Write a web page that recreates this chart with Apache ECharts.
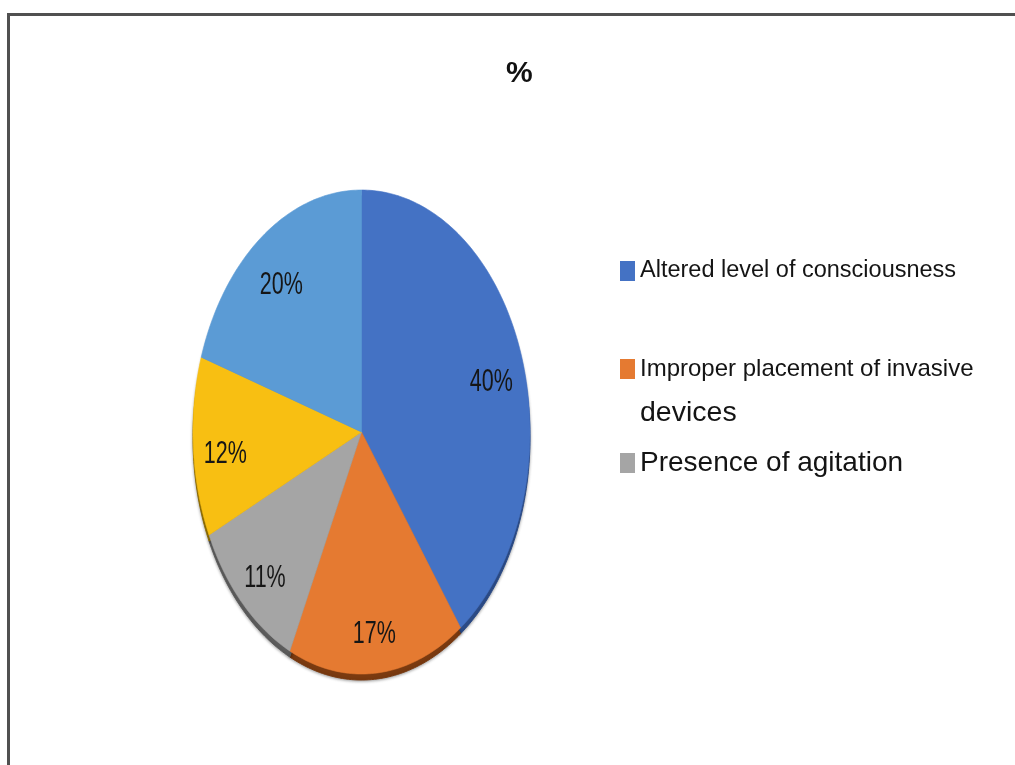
<!DOCTYPE html>
<html>
<head>
<meta charset="utf-8">
<script src="https://cdn.jsdelivr.net/npm/echarts@6/dist/echarts.min.js"></script>
<style>
html,body{margin:0;padding:0;background:#ffffff;}
#chart{width:1015px;height:765px;}
</style>
</head>
<body>
<div id="chart"></div>
<script>
// ---------------- data ----------------
const chartTitle = '%';
const categories = [
  'Altered level of consciousness',
  'Improper placement of invasive devices',
  'Presence of agitation',
  'Other cause A',
  'Other cause B'
];
const values = [40, 17, 11, 12, 20];
const valueLabels = ['40%', '17%', '11%', '12%', '20%'];
const legendCategories = [categories[0], categories[1], categories[2]];

// ---------------- styles ----------------
const palette = ['#4472C4', '#E57A31', '#A5A5A5', '#F8BF12', '#5B9BD5'];
const sidePalette = ['#2c4c88', '#7a3a10', '#5c5c5c', '#8c6a00', '#3a6896'];

function hasFont(name) {
  const ctx = document.createElement('canvas').getContext('2d');
  const s = 'mmmmmmmmmmlli WWW 0123 abc';
  ctx.font = '40px monospace'; const a = ctx.measureText(s).width;
  ctx.font = '40px "' + name + '", monospace'; const b = ctx.measureText(s).width;
  ctx.font = '40px serif'; const c = ctx.measureText(s).width;
  ctx.font = '40px "' + name + '", serif'; const d = ctx.measureText(s).width;
  return a !== b || c !== d;
}
const HAS_NARROW = hasFont('Liberation Sans Narrow');
const NARROW = HAS_NARROW ? 'Liberation Sans Narrow' : 'Liberation Sans';
const REGULAR = 'Liberation Sans';
const narrowSize = HAS_NARROW ? 28.5 : 23.5;
const narrowSize2 = HAS_NARROW ? 29 : 24;
const labelFont = HAS_NARROW ? '26px "Liberation Sans Narrow"' : '21.5px "Liberation Sans"';
const labelScaleY = HAS_NARROW ? 1.2 : 1.42;
const LABEL_RX = 0.81;
const LABEL_RY = 0.8;
const LABEL_DY = 10;
const SIDE_DY = 6;

function sliceAngles(i) {
  const total = values.reduce((s, v) => s + v, 0);
  let acc = 0;
  for (let k = 0; k < i; k++) acc += values[k];
  return [acc / total * 2 * Math.PI, (acc + values[i]) / total * 2 * Math.PI];
}
function slicePolygon(api, i, dy) {
  const [a0, a1] = sliceAngles(i);
  const c = api.coord([0, 0]);
  const pts = [[c[0], c[1] + dy]];
  const n = Math.max(8, Math.ceil((a1 - a0) * 180 / Math.PI));
  for (let j = 0; j <= n; j++) {
    const a = a0 + (a1 - a0) * j / n;
    const p = api.coord([Math.sin(a), Math.cos(a)]);
    pts.push([p[0], p[1] + dy]);
  }
  return pts;
}

// 3D side (drawn beneath all slices)
const sideSeries = {
  type: 'custom',
  name: '__side',
  coordinateSystem: 'cartesian2d',
  silent: true,
  z: 1,
  clip: false,
  encode: { x: 0, y: 1 },
  data: values.map((v, i) => [0, 0, v, i]),
  renderItem: function (params, api) {
    const i = api.value(3);
    return {
      type: 'polygon',
      shape: { points: slicePolygon(api, i, SIDE_DY) },
      style: { fill: sidePalette[i], stroke: sidePalette[i], lineWidth: 1, shadowBlur: 3, shadowColor: 'rgba(0,0,0,0.35)', shadowOffsetY: 1 }
    };
  }
};

const sliceSeries = categories.map((name, i) => ({
  type: 'custom',
  name: name,
  coordinateSystem: 'cartesian2d',
  z: 2,
  clip: false,
  itemStyle: { color: palette[i] },
  encode: { x: 0, y: 1 },
  data: [[0, 0, values[i], i]],
  renderItem: function (params, api) {
    const idx = api.value(3);
    const [a0, a1] = sliceAngles(idx);
    const mid = (a0 + a1) / 2;
    const lp = api.coord([LABEL_RX * Math.sin(mid), LABEL_RY * Math.cos(mid)]);
    return {
      type: 'group',
      children: [
        {
          type: 'polygon',
          shape: { points: slicePolygon(api, idx, 0) },
          style: { fill: palette[idx], stroke: palette[idx], lineWidth: 0.6 }
        },
        {
          type: 'text',
          x: lp[0],
          y: lp[1] + LABEL_DY,
          scaleY: labelScaleY,
          z2: 10,
          style: {
            text: valueLabels[idx],
            font: labelFont,
            fill: '#161616',
            align: 'center',
            verticalAlign: 'middle'
          }
        }
      ]
    };
  }
}));

const chart = echarts.init(document.getElementById('chart'), null, { renderer: 'canvas' });
chart.setOption({
  backgroundColor: '#ffffff',
  animation: false,
  title: {
    text: chartTitle,
    left: 506,
    top: 59,
    padding: 0,
    textStyle: { fontFamily: NARROW, fontWeight: 'bold', fontSize: 30, color: '#111111' }
  },
  graphic: [
    {
      type: 'rect',
      silent: true,
      shape: { x: 8.5, y: 14.5, width: 1200, height: 1000 },
      style: { fill: 'none', stroke: '#505050', lineWidth: 3 }
    }
  ],
  grid: { left: 193, top: 190, width: 337, height: 484, containLabel: false },
  xAxis: { type: 'value', min: -1, max: 1, show: false },
  yAxis: { type: 'value', min: -1, max: 1, show: false },
  legend: [
    {
      orient: 'vertical', left: 620, top: 259, padding: 0,
      icon: 'rect', itemWidth: 15, itemHeight: 20,
      data: [legendCategories[0]],
      textStyle: { fontFamily: NARROW, fontSize: narrowSize, color: '#141414' }
    },
    {
      orient: 'vertical', left: 620, top: 357, padding: 0,
      icon: 'rect', itemWidth: 15, itemHeight: 20,
      data: [legendCategories[1]],
      formatter: function (name) {
        const k = name.lastIndexOf(' ');
        return '{a|' + name.slice(0, k) + '}\n{b|' + name.slice(k + 1) + '}';
      },
      textStyle: {
        color: '#141414',
        padding: [44, 0, 0, 0],
        rich: {
          a: { fontFamily: NARROW, fontSize: narrowSize2, lineHeight: 44, color: '#141414' },
          b: { fontFamily: REGULAR, fontSize: 28.5, lineHeight: 44, color: '#141414' }
        }
      }
    },
    {
      orient: 'vertical', left: 620, top: 449, padding: 0,
      icon: 'rect', itemWidth: 15, itemHeight: 20,
      data: [legendCategories[2]],
      textStyle: { fontFamily: REGULAR, fontSize: 28, color: '#141414' }
    }
  ],
  series: [sideSeries].concat(sliceSeries)
});
</script>
</body>
</html>
